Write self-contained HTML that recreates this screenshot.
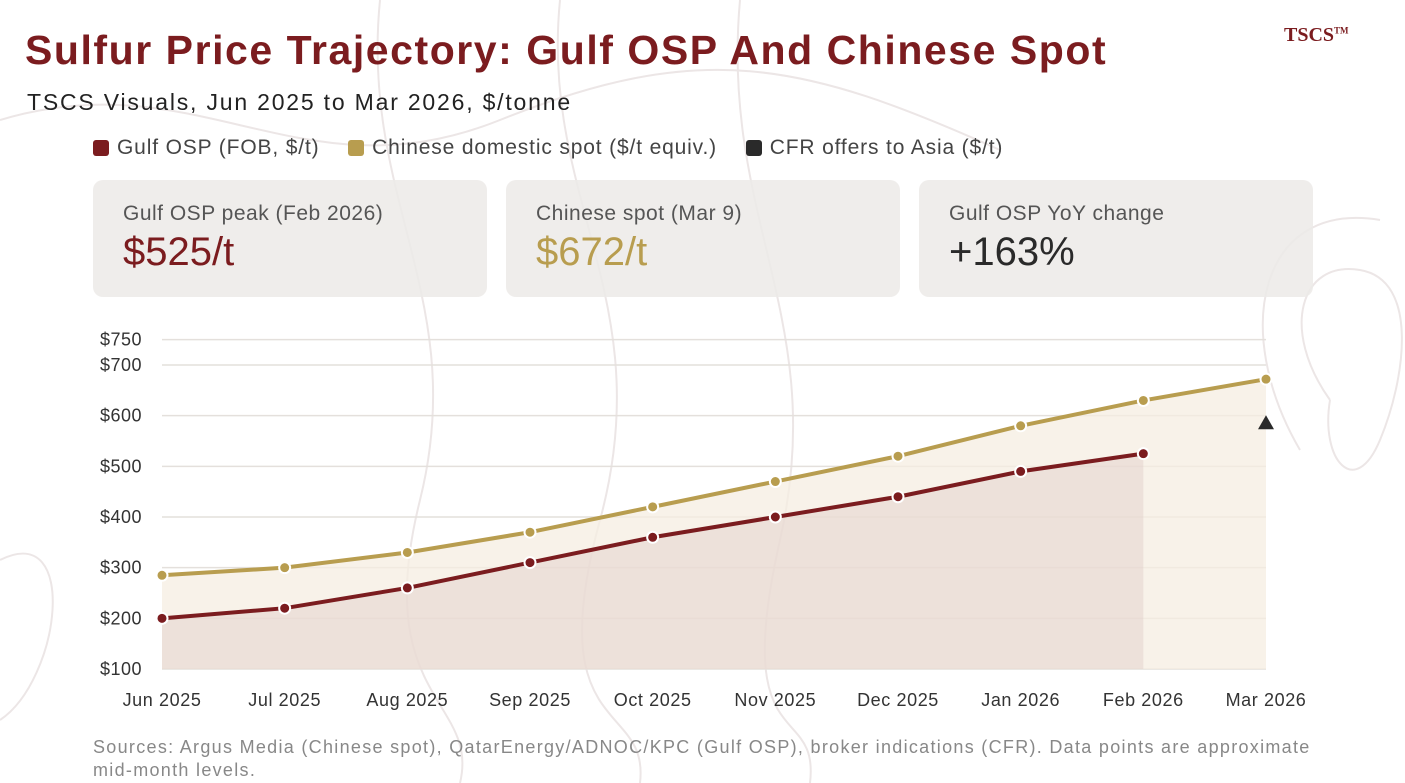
<!DOCTYPE html>
<html><head><meta charset="utf-8"><style>
body{margin:0;width:1405px;height:783px;background:#fff;font-family:"Liberation Sans",sans-serif;position:relative;overflow:hidden}
.t{position:absolute;white-space:nowrap}
.card{position:absolute;top:180px;height:117px;width:394px;background:rgba(236,234,232,0.85);border-radius:10px}
.card .l{position:absolute;left:30px;top:22px;font-size:21px;color:#555;letter-spacing:0.5px}
.card .v{position:absolute;left:30px;top:50px;font-size:40px}
.sw{display:inline-block;width:16px;height:16px;border-radius:3px;vertical-align:-2px;margin-right:8px}
</style></head><body>
<svg width="1405" height="783" style="position:absolute;left:0;top:0" fill="none" stroke="#ece6e6" stroke-width="2">
<path d="M0 120 C200 60 300 200 500 120 S 800 60 1000 150"/><path d="M380 0 C360 200 470 300 420 500 S 480 700 460 783"/>
<path d="M560 0 C540 200 660 300 600 520 S 650 700 640 783"/><path d="M740 0 C720 220 830 320 780 540 S 820 700 810 783"/>
<path d="M1330 400 C1280 330 1300 260 1360 270 S 1405 380 1380 440 S 1320 460 1330 400"/>
<path d="M1300 450 C1230 330 1260 200 1380 220"/><path d="M0 560 C80 520 60 680 0 720"/>
</svg>
<div class="t" style="left:25px;top:27px;font-size:41px;font-weight:bold;color:#7b1c1f;letter-spacing:1.55px">Sulfur Price Trajectory: Gulf OSP And Chinese Spot</div>
<div class="t" style="left:1284px;top:24px;font-size:20px;font-family:'Liberation Serif',serif;font-weight:bold;color:#7b1c1f">TSCS<sup style="font-size:9px">TM</sup></div>
<div class="t" style="left:27px;top:89px;font-size:23px;color:#222;letter-spacing:1.8px">TSCS Visuals, Jun 2025 to Mar 2026, $/tonne</div>
<div class="t" style="left:93px;top:136px;font-size:21px;color:#444;letter-spacing:0.85px">
<span><span class="sw" style="background:#7b1c1f"></span>Gulf OSP (FOB, $/t)</span>
<span style="margin-left:22px"><span class="sw" style="background:#b89d4f"></span>Chinese domestic spot ($/t equiv.)</span>
<span style="margin-left:22px"><span class="sw" style="background:#2a2a2a"></span>CFR offers to Asia ($/t)</span></div>
<div class="card" style="left:93px"><div class="l">Gulf OSP peak (Feb 2026)</div><div class="v" style="color:#7b1c1f">$525/t</div></div>
<div class="card" style="left:506px"><div class="l">Chinese spot (Mar 9)</div><div class="v" style="color:#b89d4f">$672/t</div></div>
<div class="card" style="left:919px"><div class="l">Gulf OSP YoY change</div><div class="v" style="color:#2a2a2a">+163%</div></div>
<svg id="ch" width="1405" height="783" style="position:absolute;left:0;top:0"></svg>
<div class="t" style="left:93px;top:736px;font-size:18px;color:#888;line-height:23px;letter-spacing:1.3px">Sources: Argus Media (Chinese spot), QatarEnergy/ADNOC/KPC (Gulf OSP), broker indications (CFR). Data points are approximate<br>mid-month levels.</div>
<script>
const months=["Jun 2025","Jul 2025","Aug 2025","Sep 2025","Oct 2025","Nov 2025","Dec 2025","Jan 2026","Feb 2026","Mar 2026"];
const gulf=[200,220,260,310,360,400,440,490,525];
const chinese=[285,300,330,370,420,470,520,580,630,672];
const cfr=[null,null,null,null,null,null,null,null,null,585];
const yTicks=[100,200,300,400,500,600,700,750];
const NS="http://www.w3.org/2000/svg",svg=document.getElementById('ch');
const x=i=>162+i*(1266-162)/9, y=v=>669-(v-100)*(669-365)/600;
function mk(t,a,p){const e=document.createElementNS(NS,t);for(const k in a)e.setAttribute(k,a[k]);(p||svg).appendChild(e);return e;}
yTicks.forEach(v=>{
const g=mk('line',{x1:162,x2:1266,y1:y(v),y2:y(v),stroke:'#e4e0dc','stroke-width':1.5});


const t=mk('text',{x:142,y:y(v)+6,'text-anchor':'end','font-size':18,fill:'#333','font-family':'Liberation Sans','letter-spacing':0.5});t.textContent='$'+v;


});
months.forEach((m,i)=>{const t=mk('text',{x:x(i),y:706,'text-anchor':'middle','font-size':18,fill:'#333','font-family':'Liberation Sans','letter-spacing':0.6});t.textContent=m;

});
function area(d,fill,name){let s=`M${x(0)} ${y(100)}`;d.forEach((v,i)=>s+=` L${x(i)} ${y(v)}`);s+=` L${x(d.length-1)} ${y(100)} Z`;
const p=mk('path',{d:s,fill:fill});

}
area(chinese,'rgba(245,238,225,0.75)','chinese-area');
area(gulf,'rgba(225,205,200,0.45)','gulf-area');
function line(d,c,name){const p=mk('polyline',{points:d.map((v,i)=>x(i)+','+y(v)).join(' '),fill:'none',stroke:c,'stroke-width':4});


d.forEach((v,i)=>{const c2=mk('circle',{cx:x(i),cy:y(v),r:5.5,fill:c,stroke:'#fff','stroke-width':2});

});}
line(chinese,'#b89d4f','chinese-spot');
line(gulf,'#7b1c1f','gulf-osp');
cfr.forEach((v,i)=>{if(v==null)return;const cx=x(i),cy=y(v);
const tr=mk('polygon',{points:`${cx},${cy-8} ${cx-8},${cy+6} ${cx+8},${cy+6}`,fill:'#2a2a2a'});

});
</script>
</body></html>
